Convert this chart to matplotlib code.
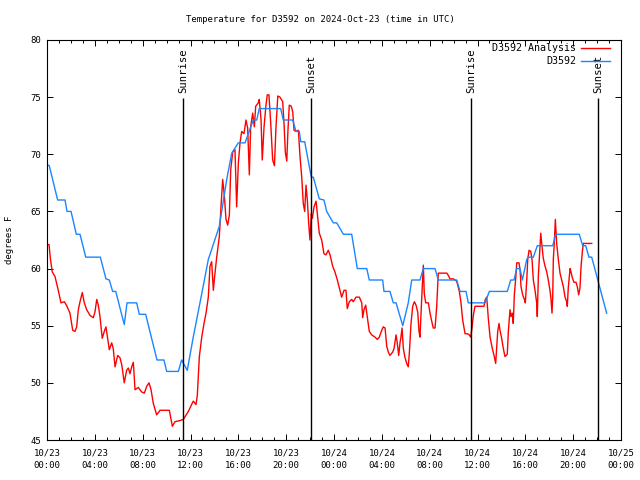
import pandas as pd
import matplotlib
matplotlib.use('Agg')
import matplotlib.pyplot as plt
import matplotlib.dates as mdates

# hours after 2024-10-23 00:00 UTC, temperature in degrees F
station_hours = [0.0, 0.19, 0.89, 1.51, 1.67, 2.01, 2.45, 2.76, 3.24, 4.46,
                 4.93, 5.21, 5.49, 5.75, 6.46, 6.69, 7.5, 7.72, 8.25, 9.2,
                 9.78, 10.01, 10.98, 11.26, 11.73, 12.23, 12.94, 13.49, 14.41, 15.03,
                 15.45, 16.0, 16.56, 17.25, 17.54, 17.75, 19.54, 19.76, 20.55, 20.82,
                 21.1, 21.22, 21.55, 22.1, 22.27, 22.77, 23.16, 23.39, 23.94, 24.23,
                 24.78, 25.48, 25.95, 26.74, 26.95, 28.07, 28.18, 28.68, 28.96, 29.19,
                 29.75, 30.21, 30.5, 31.19, 31.47, 32.45, 32.72, 34.26, 34.54, 35.04,
                 35.23, 36.63, 36.99, 38.49, 38.78, 39.05, 39.28, 39.55, 39.75, 40.12,
                 40.25, 40.67, 41.0, 42.29, 42.54, 44.51, 44.8, 45.05, 45.32, 45.55,
                 46.8]
station_temp = [69.1, 69.0, 66.0, 66.0, 65.0, 65.0, 63.0, 63.0, 61.0, 61.0,
                59.1, 59.0, 58.0, 58.0, 55.1, 57.0, 57.0, 56.0, 56.0, 52.0,
                52.0, 51.0, 51.0, 52.0, 51.1, 54.0, 57.8, 60.8, 63.7, 67.8,
                70.1, 71.0, 71.0, 73.0, 73.0, 74.0, 74.0, 73.0, 73.0, 72.0,
                72.0, 71.1, 71.1, 68.0, 68.0, 66.1, 66.0, 65.0, 64.0, 64.0,
                63.0, 63.0, 60.0, 60.0, 59.0, 59.0, 58.0, 58.0, 57.0, 57.0,
                55.0, 57.0, 59.0, 59.0, 60.0, 60.0, 59.0, 59.0, 58.0, 58.0,
                57.0, 57.0, 58.0, 58.0, 59.0, 59.0, 60.0, 60.0, 59.0, 60.8,
                61.0, 61.0, 62.0, 62.0, 63.0, 63.0, 62.0, 62.0, 61.0, 61.0,
                56.1]

analysis_hours = [0.06, 0.17, 0.28, 0.44, 0.67, 0.94, 1.17, 1.45, 1.67, 1.92,
                  2.15, 2.34, 2.48, 2.62, 2.76, 2.95, 3.12, 3.32, 3.6, 3.87,
                  4.01, 4.16, 4.29, 4.43, 4.62, 4.79, 4.93, 5.08, 5.21, 5.41,
                  5.54, 5.69, 5.91, 6.1, 6.25, 6.46, 6.66, 6.8, 6.94, 7.08,
                  7.22, 7.36, 7.63, 7.92, 8.14, 8.34, 8.53, 8.7, 8.89, 9.17,
                  9.45, 10.23, 10.48, 10.7, 11.12, 11.4, 11.82, 12.23, 12.46, 12.57,
                  12.74, 12.94, 13.13, 13.3, 13.49, 13.63, 13.77, 13.91, 13.99, 14.19,
                  14.41, 14.55, 14.69, 14.83, 14.97, 15.11, 15.25, 15.36, 15.53, 15.72,
                  15.86, 16.0, 16.14, 16.28, 16.47, 16.64, 16.78, 16.92, 17.03, 17.2,
                  17.34, 17.45, 17.67, 17.75, 17.9, 18.0, 18.15, 18.31, 18.42, 18.56,
                  18.71, 18.87, 19.02, 19.15, 19.3, 19.48, 19.71, 19.82, 19.93, 20.05,
                  20.15, 20.26, 20.43, 20.55, 20.66, 20.82, 21.02, 21.16, 21.3, 21.43,
                  21.55, 21.66, 21.77, 21.88, 21.99, 22.1, 22.19, 22.33, 22.5, 22.64,
                  22.77, 22.97, 23.16, 23.33, 23.52, 23.67, 23.89, 24.08, 24.28, 24.5,
                  24.64, 24.84, 25.0, 25.11, 25.28, 25.48, 25.61, 25.84, 26.12, 26.32,
                  26.4, 26.51, 26.65, 26.79, 26.95, 27.15, 27.43, 27.62, 27.79, 27.99,
                  28.12, 28.27, 28.41, 28.54, 28.68, 28.91, 29.02, 29.19, 29.29, 29.41,
                  29.52, 29.6, 29.69, 29.8, 29.94, 30.08, 30.21, 30.3, 30.44, 30.58,
                  30.72, 30.86, 31.0, 31.11, 31.19, 31.25, 31.33, 31.42, 31.47, 31.55,
                  31.67, 31.89, 32.03, 32.17, 32.3, 32.45, 32.59, 32.72, 33.43, 33.56,
                  33.7, 33.98, 34.26, 34.48, 34.62, 34.76, 34.96, 35.15, 35.31, 35.43,
                  35.54, 35.65, 35.79, 36.54, 36.65, 36.77, 36.9, 37.05, 37.24, 37.38,
                  37.52, 37.61, 37.69, 37.8, 37.88, 38.02, 38.16, 38.3, 38.49, 38.58,
                  38.72, 38.8, 38.91, 38.99, 39.08, 39.2, 39.28, 39.47, 39.56, 39.64,
                  39.78, 39.92, 40.0, 40.12, 40.2, 40.31, 40.45, 40.56, 40.67, 40.81,
                  40.95, 41.0, 41.09, 41.23, 41.29, 41.37, 41.5, 41.65, 41.79, 41.92,
                  42.06, 42.15, 42.23, 42.29, 42.34, 42.42, 42.51, 42.57, 42.62, 42.76,
                  42.9, 43.04, 43.18, 43.32, 43.46, 43.51, 43.59, 43.74, 43.82, 43.93,
                  44.07, 44.24, 44.35, 44.46, 44.57, 44.66, 44.77, 44.85, 45.55]
analysis_temp = [62.1, 62.1, 60.9, 59.7, 59.3, 58.1, 57.0, 57.1, 56.7, 56.1,
                 54.6, 54.5, 54.9, 56.4, 57.1, 57.9, 57.0, 56.4, 55.9, 55.7,
                 56.2, 57.3, 56.8, 55.8, 53.9, 54.5, 54.9, 53.8, 52.9, 53.5,
                 53.0, 51.4, 52.4, 52.2, 51.6, 50.0, 51.1, 51.3, 50.8, 51.4,
                 51.8, 49.4, 49.6, 49.2, 49.1, 49.7, 50.0, 49.4, 48.2, 47.2,
                 47.6, 47.6, 46.2, 46.6, 46.7, 46.8, 47.5, 48.4, 48.1, 48.9,
                 52.3, 54.0, 55.2, 56.1, 57.5, 60.2, 60.6, 58.1, 59.0, 61.0,
                 62.8, 65.4, 67.8, 66.4, 64.3, 63.8, 64.7, 68.6, 70.2, 70.4,
                 65.4, 69.2, 71.0, 72.0, 71.8, 73.0, 72.3, 68.2, 72.4, 73.6,
                 72.4, 74.2, 74.5, 74.8, 73.0, 69.5, 72.4, 74.3, 75.2, 75.2,
                 72.7, 69.5, 69.0, 72.4, 75.1, 75.0, 74.6, 72.7, 70.2, 69.4,
                 72.1, 74.3, 74.2, 73.7, 72.1, 72.0, 72.1, 69.8, 68.0, 65.7,
                 65.0, 67.3, 66.0, 64.0, 62.5, 64.8, 64.4, 65.4, 65.9, 64.4,
                 63.1, 62.5, 61.3, 61.2, 61.6, 61.2, 60.2, 59.7, 59.0, 58.1,
                 57.5, 58.1, 58.1, 56.5, 57.1, 57.3, 57.1, 57.5, 57.5, 57.0,
                 55.7, 56.4, 56.8, 55.7, 54.5, 54.2, 54.0, 53.8, 54.0, 54.6,
                 54.9, 54.8, 53.2, 52.7, 52.4, 52.7, 53.0, 54.2, 53.5, 52.4,
                 53.5, 54.0, 54.8, 53.0, 52.2, 51.7, 51.4, 52.6, 55.2, 56.7,
                 57.1, 56.8, 56.2, 54.5, 54.0, 55.5, 57.3, 59.3, 60.3, 57.8,
                 57.0, 57.0, 56.1, 55.4, 54.8, 54.8, 56.7, 59.6, 59.6, 59.4,
                 59.1, 59.1, 58.9, 58.0, 57.0, 55.5, 54.3, 54.3, 54.2, 54.0,
                 54.8, 55.9, 56.7, 56.7, 57.3, 57.5, 55.7, 54.0, 53.0, 52.4,
                 51.7, 53.2, 54.5, 55.2, 54.6, 53.9, 53.0, 52.3, 52.5, 54.5,
                 56.4, 55.8, 56.1, 55.2, 57.7, 59.2, 60.5, 60.5, 59.9, 58.4,
                 57.7, 57.3, 57.0, 59.0, 60.8, 61.6, 61.5, 60.8, 59.0, 58.1,
                 57.0, 55.8, 59.4, 61.9, 63.1, 62.2, 60.9, 60.2, 59.7, 59.0,
                 58.1, 57.3, 56.1, 57.5, 60.8, 62.2, 64.3, 63.1, 62.2, 60.8,
                 59.6, 59.0, 58.4, 57.5, 57.1, 56.7, 58.3, 60.0, 59.7, 59.2,
                 58.8, 58.8, 58.4, 57.7, 58.3, 60.2, 61.5, 62.2, 62.2]

sun_events = ['2024-10-23 11:24', '2024-10-23 22:06', '2024-10-24 11:28', '2024-10-24 22:06']
sun_labels = ['Sunrise', 'Sunset', 'Sunrise', 'Sunset']

plt.rcParams['font.family'] = 'DejaVu Sans Mono'
plt.rcParams['font.size'] = 6.5

base = pd.Timestamp('2024-10-23 00:00')
t_station = (base + pd.to_timedelta(station_hours, unit='h')).to_numpy()
t_analysis = (base + pd.to_timedelta(analysis_hours, unit='h')).to_numpy()

fig = plt.figure(figsize=(6.4, 4.8), dpi=100)
ax = fig.add_axes([47 / 640, 40 / 480, 574 / 640, 400 / 480])

ax.plot(t_analysis, analysis_temp, color='#ff0000', lw=1.0, label='D3592 Analysis')
ax.plot(t_station, station_temp, color='#1a86ff', lw=1.0, label='D3592')

# lineas de salida / puesta del sol
for ev, lab in zip(sun_events, sun_labels):
    t = pd.Timestamp(ev).to_datetime64()
    ax.vlines(t, 45, 74.95, color='black', lw=1.0)
    ax.text(t, 75.4, lab, rotation=90, ha='center', va='bottom', fontsize=7.6)

ax.set_xlim(base.to_datetime64(), pd.Timestamp('2024-10-25 00:00').to_datetime64())
ax.set_ylim(45, 80)
ax.set_yticks(range(45, 81, 5))
ax.xaxis.set_major_locator(mdates.HourLocator(byhour=range(0, 24, 4)))
ax.xaxis.set_minor_locator(mdates.HourLocator())
ax.xaxis.set_major_formatter(mdates.DateFormatter('%m/%d\n%H:%M'))
for lbl in ax.get_xticklabels():
    lbl.set_linespacing(1.5)

ax.tick_params(which='both', direction='in', top=True, right=True, width=0.7)
ax.tick_params(which='major', length=4.5)
ax.tick_params(which='minor', length=2.5)
ax.tick_params(axis='x', pad=6)
ax.tick_params(axis='y', pad=4)
for s in ax.spines.values():
    s.set_linewidth(0.8)

fig.text(0.5, 1 - 20 / 480, 'Temperature for D3592 on 2024-Oct-23 (time in UTC)', ha='center', va='center')
fig.text(10 / 640, 0.5, 'degrees F', rotation=90, ha='center', va='center')

ax.legend(loc='upper right', bbox_to_anchor=((610 - 47) / 574, 0.992), frameon=False,
          markerfirst=False, handlelength=2.9, handletextpad=0.5, labelspacing=0.3,
          borderaxespad=0, borderpad=0, fontsize=7.2)

fig.savefig('out.png', dpi=100)
